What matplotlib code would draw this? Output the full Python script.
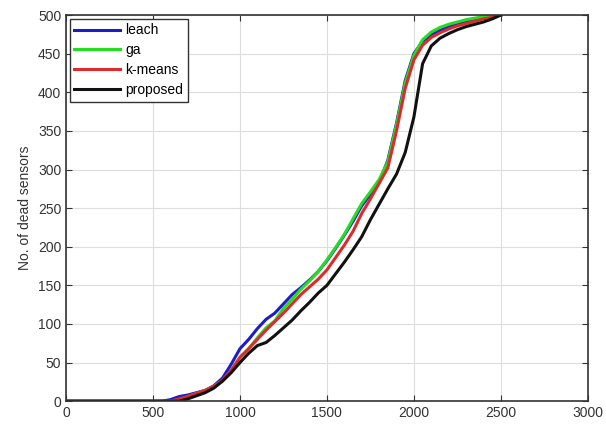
import matplotlib.pyplot as plt

# rounds (x) and dead sensors
rounds = [0, 500, 550, 600, 650, 700, 750, 800, 850, 900, 950, 1000, 1050, 1100, 1150,
          1200, 1250, 1300, 1350, 1400, 1450, 1500, 1550, 1600, 1650, 1700, 1750, 1800,
          1850, 1900, 1950, 2000, 2050, 2100, 2150, 2200, 2250, 2300, 2350, 2400, 2450, 2500]

leach = [0, 0, 0, 2, 6, 8, 11, 14, 20, 30, 48, 68, 80, 94, 106, 114, 126, 138, 147, 157,
         168, 182, 198, 215, 233, 253, 268, 283, 312, 360, 415, 450, 466, 475, 480, 485,
         488, 491, 493, 496, 498, 500]
ga = [0, 0, 0, 0, 2, 6, 10, 14, 19, 27, 40, 56, 68, 82, 95, 104, 120, 132, 145, 156,
      168, 183, 199, 216, 236, 256, 271, 287, 310, 358, 412, 448, 468, 478, 484, 488,
      491, 494, 496, 498, 499, 500]
kmeans = [0, 0, 0, 0, 3, 6, 10, 14, 19, 27, 40, 57, 68, 80, 92, 103, 114, 126, 138, 148,
          158, 170, 186, 202, 220, 243, 262, 282, 302, 350, 405, 442, 461, 471, 477, 482,
          486, 489, 492, 495, 497, 500]
proposed = [0, 0, 0, 0, 0, 3, 7, 11, 17, 26, 37, 50, 62, 72, 76, 85, 95, 105, 117, 128,
            140, 150, 165, 180, 196, 213, 235, 255, 275, 294, 322, 368, 437, 460, 470, 476,
            481, 485, 488, 491, 495, 500]

plt.rcParams['font.family'] = ['Liberation Sans', 'DejaVu Sans']

fig = plt.figure(figsize=(6.06, 4.30), dpi=100)
ax = fig.add_axes([0.109, 0.067, 0.861, 0.898])

ax.plot(rounds, leach, color='#1c1cc8', lw=2.2, label='leach')
ax.plot(rounds, ga, color='#22dd22', lw=2.2, label='ga')
ax.plot(rounds, kmeans, color='#dd2a2a', lw=2.2, label='k-means')
ax.plot(rounds, proposed, color='#111111', lw=2.2, label='proposed')

ax.set_xlim(0, 3000)
ax.set_ylim(0, 500)
ax.set_xticks(range(0, 3001, 500))
ax.set_yticks(range(0, 501, 50))
ax.grid(True, color='#dddddd', lw=0.8)
ax.tick_params(direction='in', top=True, right=True, labelsize=10, colors='#333333', length=4)
for s in ax.spines.values():
    s.set_color('#333333')
    s.set_linewidth(1.2)
ax.set_ylabel('No. of dead sensors', fontsize=10, color='#333333')

leg = ax.legend(loc='upper left', fontsize=10, fancybox=False, framealpha=1,
                edgecolor='#333333', handlelength=3.3, borderaxespad=0.25,
                labelspacing=0.42, handletextpad=0.35, borderpad=0.35)
leg.get_frame().set_linewidth(1.0)

fig.savefig('out.png', dpi=100)
